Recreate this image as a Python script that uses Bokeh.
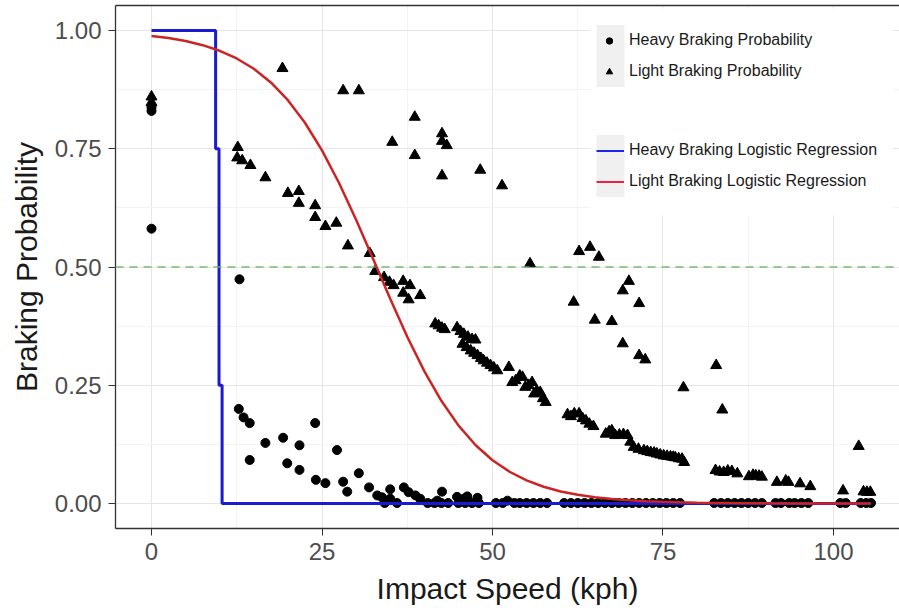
from bokeh.plotting import figure
from bokeh.models import (Range1d, FixedTicker, Span, Legend, LegendItem,
                          BoxAnnotation, LinearAxis, PrintfTickFormatter, ColumnDataSource)
from bokeh.embed import file_html
from bokeh.resources import INLINE

# ---------------- data ----------------
heavy_speed = [0, 0, 0, 12.9, 12.8, 13.5, 14.4, 14.4, 16.7, 19.3, 19.9, 21.7, 21.7, 24.0, 24.1,
               25.5, 27.2, 28.1, 28.7, 30.4, 31.9, 33.1, 33.8, 35.0, 35.0, 37.0, 37.7, 38.7,
               39.4, 42.6, 41.9, 44.8, 45.8, 46.3, 47.8, 52.2,
               34.2, 36.0, 40.5, 41.5, 42.5, 43.5, 45.0, 46.0, 47.0, 48.0, 50.5, 51.5, 53.2,
               54.0, 55.0, 56.0, 57.0, 58.0, 60.5, 61.5, 62.5, 63.5, 64.5, 65.5, 66.5, 67.5,
               68.5, 69.5, 70.5, 71.5, 72.5, 73.5, 74.5, 75.5, 76.5, 77.5, 82.5, 83.5, 84.5,
               85.5, 86.5, 87.5, 88.5, 89.5, 91.5, 92.3, 93.5, 94.3, 95.3, 96.3, 101.0, 101.8,
               104.0, 104.8, 105.5]
heavy_prob = [0.838, 0.830, 0.581, 0.474, 0.200, 0.182, 0.170, 0.092, 0.128, 0.139, 0.085, 0.123,
              0.071, 0.170, 0.050, 0.043, 0.113, 0.046, 0.025, 0.064, 0.034, 0.017, 0.013, 0.030,
              0.010, 0.034, 0.024, 0.017, 0.010, 0.025, 0.006, 0.014, 0.010, 0.015, 0.012, 0.006,
              0.001, 0.001, 0.001, 0.001, 0.001, 0.001, 0.001, 0.001, 0.001, 0.001, 0.001, 0.001,
              0.001, 0.001, 0.001, 0.001, 0.001, 0.001, 0.001, 0.001, 0.001, 0.001, 0.001, 0.001,
              0.001, 0.001, 0.001, 0.001, 0.001, 0.001, 0.001, 0.001, 0.001, 0.001, 0.001, 0.001,
              0.001, 0.001, 0.001, 0.001, 0.001, 0.001, 0.001, 0.001, 0.001, 0.001, 0.001, 0.001,
              0.001, 0.001, 0.001, 0.001, 0.001, 0.001, 0.001]

light_speed = [0, 0, 12.65, 12.57, 13.3, 14.5, 16.7, 19.2, 20.0, 21.6, 21.6, 24.0, 24.0, 25.5, 27.1,
               28.1, 30.4, 28.8, 32.0, 32.8, 34.1, 34.9, 35.5, 36.9, 37.9, 36.9, 37.7, 39.4,
               35.3, 38.6, 38.6, 42.6, 42.6, 43.3, 42.6, 48.2, 51.4, 55.5,
               41.6, 42.1, 42.6, 43.0, 44.8, 45.3, 45.8, 46.4, 47.0, 47.5, 45.6, 46.2, 46.8,
               47.3, 47.8, 48.3, 48.7, 49.2, 49.7, 50.2, 50.7, 52.4, 52.9, 53.4, 54.0, 54.4,
               54.8, 55.3, 55.8, 56.1, 56.5, 57.0, 57.4, 57.8,
               61.0, 61.5, 62.0, 62.7, 63.2, 63.7, 64.2, 64.8,
               61.9, 62.7, 64.3, 65.6, 65.0, 67.5, 69.1, 70.0, 71.5, 69.1, 71.5, 72.4, 78.0,
               82.8, 83.7, 103.7,
               66.6, 67.1, 67.5, 68.0, 68.6, 69.2, 69.8, 70.2, 70.7, 71.4, 72.2, 72.7, 73.2,
               73.7, 74.1, 74.6, 75.1, 75.6, 76.1, 76.5, 76.8, 77.3, 77.8, 78.1,
               82.7, 83.3, 83.9, 84.5, 85.1, 85.9, 87.6, 88.2, 88.6, 89.1, 89.5, 91.7, 93.0,
               93.4, 95.1, 96.6, 101.4, 104.4, 104.9, 105.4]
light_prob = [0.860, 0.848, 0.753, 0.731, 0.725, 0.715, 0.689, 0.920, 0.656, 0.660, 0.635, 0.630,
              0.605, 0.586, 0.593, 0.873, 0.873, 0.545, 0.529, 0.491, 0.478, 0.468, 0.461, 0.470,
              0.461, 0.445, 0.431, 0.440, 0.764, 0.817, 0.736, 0.782, 0.766, 0.757, 0.693, 0.705,
              0.672, 0.507,
              0.380, 0.376, 0.371, 0.368, 0.372, 0.364, 0.358, 0.352, 0.347, 0.346, 0.337, 0.330,
              0.323, 0.318, 0.313, 0.307, 0.302, 0.297, 0.292, 0.287, 0.281, 0.288, 0.256, 0.260,
              0.270, 0.267, 0.246, 0.250, 0.256, 0.232, 0.238, 0.235, 0.222, 0.214,
              0.188, 0.184, 0.190, 0.190, 0.180, 0.175, 0.168, 0.163,
              0.426, 0.533, 0.542, 0.521, 0.388, 0.385, 0.450, 0.470, 0.423, 0.338, 0.313, 0.304,
              0.245, 0.292, 0.198, 0.121,
              0.147, 0.152, 0.154, 0.144, 0.145, 0.146, 0.144, 0.130, 0.119, 0.115, 0.112, 0.110,
              0.108, 0.107, 0.105, 0.103, 0.101, 0.100, 0.099, 0.098, 0.097, 0.095, 0.094, 0.087,
              0.070, 0.067, 0.066, 0.069, 0.068, 0.063, 0.057, 0.060, 0.059, 0.058, 0.056, 0.045,
              0.048, 0.045, 0.042, 0.036, 0.027, 0.025, 0.024, 0.024]

heavy_fit_speed = [0, 9.4, 9.4, 9.9, 9.9, 10.35, 10.35, 105.5]
heavy_fit_prob = [1.0, 1.0, 0.75, 0.75, 0.25, 0.25, 0.0, 0.0]

light_fit_speed = [0, 2.5, 5, 7.5, 10, 12.5, 15, 17.5, 20, 22.5, 25, 27.5, 30, 32.5, 35, 37.5,
                   40, 42.5, 45, 47.5, 50, 52.5, 55, 57.5, 60, 62.5, 65, 67.5, 70, 72.5, 75,
                   77.5, 80, 85, 90, 95, 100, 105.5]
light_fit_prob = [0.9885, 0.984, 0.9777, 0.969, 0.9571, 0.9409, 0.9191, 0.8902, 0.8526, 0.805,
                  0.7465, 0.6776, 0.5999, 0.5169, 0.4329, 0.3526, 0.2799, 0.2171, 0.1652,
                  0.1237, 0.0915, 0.0671, 0.0488, 0.0353, 0.0255, 0.0183, 0.0131, 0.0094,
                  0.0067, 0.0048, 0.0034, 0.0025, 0.0018, 0.0009, 0.0005, 0.0002, 0.0001, 0.0001]

x_ticks = [0, 25, 50, 75, 100]
x_minor = [12.5, 37.5, 62.5, 87.5]
y_ticks = [0, 0.25, 0.5, 0.75, 1.0]
y_minor = [0.125, 0.375, 0.625, 0.875]

legend_points = ["Heavy Braking Probability", "Light Braking Probability"]
legend_lines = ["Heavy Braking Logistic Regression", "Light Braking Logistic Regression"]

FONT = "Liberation Sans"
BLUE = "#1a1ad0"
RED = "#cc2424"

p = figure(width=899, height=611, output_backend="svg", toolbar_location=None,
           x_range=Range1d(-5.28, 109.68), y_range=Range1d(-0.0529, 1.0529),
           min_border_left=115, min_border_right=0, min_border_top=5, min_border_bottom=83,
           background_fill_color="white", border_fill_color="white",
           outline_line_color=None)

xt = FixedTicker(ticks=x_ticks, minor_ticks=x_minor)
yt = FixedTicker(ticks=y_ticks, minor_ticks=y_minor)
p.xaxis.ticker = xt
p.yaxis.ticker = yt
p.yaxis.formatter = PrintfTickFormatter(format="%.2f")

for ax in (p.xaxis[0], p.yaxis[0]):
    ax.axis_line_color = "#333333"
    ax.axis_line_width = 1.3
    ax.major_tick_line_color = "#333333"
    ax.major_tick_out = 7
    ax.major_tick_in = 0
    ax.minor_tick_line_color = None
    ax.major_label_text_font = FONT
    ax.major_label_text_font_size = "24px"
    ax.major_label_text_color = "#4d4d4d"
    ax.axis_label_text_font = FONT
    ax.axis_label_text_font_size = "30px"
    ax.axis_label_text_font_style = "normal"
    ax.axis_label_text_color = "#1a1a1a"
p.xaxis.axis_label = "Impact Speed (kph)"
p.yaxis.axis_label = "Braking Probability"
p.xaxis.major_label_standoff = 7
p.yaxis.major_label_standoff = 7
p.xaxis.axis_label_standoff = 9
p.yaxis.axis_label_standoff = 9

top = LinearAxis(ticker=FixedTicker(ticks=[]), major_label_text_font_size="0px",
                 major_tick_out=0, major_tick_in=0, major_label_standoff=0,
                 axis_line_color="#333333", axis_line_width=1.3, minor_tick_line_color=None)
p.add_layout(top, "above")

for g in (p.xgrid[0], p.ygrid[0]):
    g.grid_line_color = "#e6e6e6"
    g.grid_line_width = 1
    g.minor_grid_line_color = "#f3f3f3"
    g.minor_grid_line_width = 1

# legend background and key backgrounds (drawn under the glyph level, above the grid)
for (l, r, b, t, c) in [(64.4, 108.7, 0.609, 1.0465, "white"),
                        (65.25, 69.36, 0.8805, 1.0116, "#f0f0f0"),
                        (65.25, 69.36, 0.648, 0.779, "#f0f0f0")]:
    p.add_layout(BoxAnnotation(left=l, right=r, bottom=b, top=t, level="underlay",
                               fill_color=c, fill_alpha=1, line_color=None))

hs = ColumnDataSource(dict(x=heavy_speed, y=heavy_prob))
ls = ColumnDataSource(dict(x=light_speed, y=light_prob))
hf = ColumnDataSource(dict(x=heavy_fit_speed, y=heavy_fit_prob))
lf = ColumnDataSource(dict(x=light_fit_speed, y=light_fit_prob))

p.scatter("x", "y", source=hs, marker="circle", size=9, color="black")
p.scatter("x", "y", source=ls, marker="triangle", size=11, color="black")
p.line("x", "y", source=hf, line_color=BLUE, line_width=3)
p.line("x", "y", source=lf, line_color=RED, line_width=2.5)

p.add_layout(Span(location=0.5, dimension="width", line_color="#66b866",
                  line_dash="8 6", line_width=1.5, line_alpha=0.9))

# hidden proxy renderers, used only for the legend keys
r_h = p.scatter("x", "y", source=hs, marker="circle", size=6, color="black", visible=False)
r_l = p.scatter("x", "y", source=ls, marker="triangle", size=7.5, color="black", visible=False)
r_b = p.line("x", "y", source=hf, line_color="#2424ee", line_width=2, visible=False)
r_r = p.line("x", "y", source=lf, line_color="#ee2240", line_width=2, visible=False)


def mk_legend(items, loc, gw, standoff):
    return Legend(items=items, location=loc, glyph_width=gw, glyph_height=31,
                  label_height=31, label_standoff=standoff, spacing=0, padding=0, margin=0,
                  border_line_color=None, background_fill_alpha=0,
                  label_text_font=FONT, label_text_font_size="16px",
                  label_text_color="#1a1a1a", click_policy="none")

leg1 = mk_legend([LegendItem(label=legend_points[0], renderers=[r_h]),
                  LegendItem(label=legend_points[1], renderers=[r_l])], (486, 441.5), 16, 12)
leg2 = mk_legend([LegendItem(label=legend_lines[0], renderers=[r_b]),
                  LegendItem(label=legend_lines[1], renderers=[r_r])], (481, 331.5), 28, 5)
p.add_layout(leg1)
p.add_layout(leg2)

open("out.html", "w").write(file_html(p, INLINE))
